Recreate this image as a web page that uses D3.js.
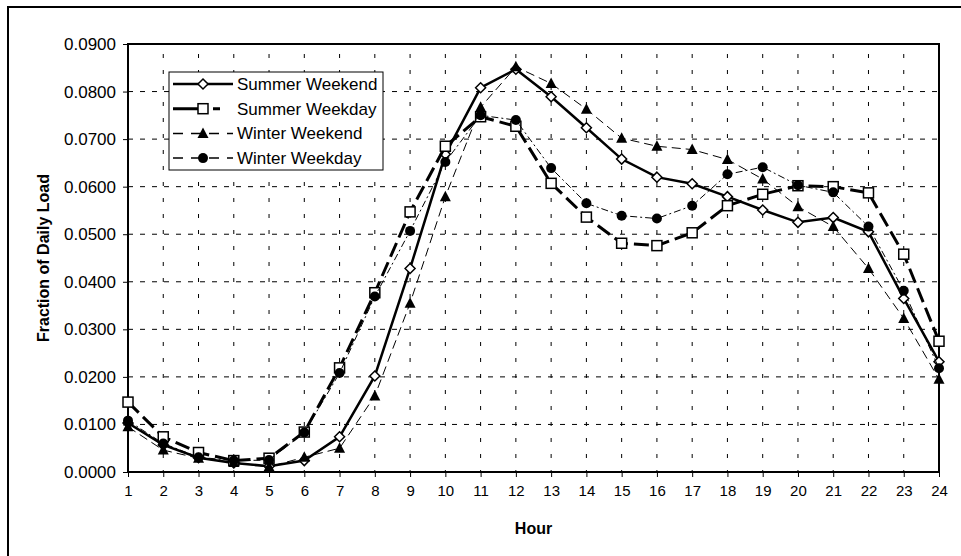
<!DOCTYPE html>
<html>
<head>
<meta charset="utf-8">
<script src="https://cdn.jsdelivr.net/npm/d3@7"></script>
<style>
  body { margin: 0; background: #fff; }
  svg { display: block; font-family: "Liberation Sans", Arial, sans-serif; }
</style>
</head>
<body>
<svg width="961" height="556"></svg>
<script>
// hours on the x axis
const hours = d3.range(1, 25);

// fraction of daily load
const summerWeekend = [0.0103, 0.0057, 0.0030, 0.0019, 0.0012, 0.0024, 0.0074, 0.0202, 0.0428, 0.0668, 0.0808, 0.0847,
  0.0789, 0.0724, 0.0658, 0.0620, 0.0606, 0.0579, 0.0551, 0.0525, 0.0535, 0.0505, 0.0365, 0.0232];
const summerWeekday = [0.0147, 0.0074, 0.0041, 0.0024, 0.0029, 0.0084, 0.0219, 0.0377, 0.0547, 0.0685, 0.0747, 0.0727,
  0.0607, 0.0536, 0.0481, 0.0476, 0.0503, 0.0560, 0.0584, 0.0602, 0.0600, 0.0587, 0.0458, 0.0275];
const winterWeekend = [0.0095, 0.0046, 0.0029, 0.0020, 0.0011, 0.0031, 0.0050, 0.0160, 0.0355, 0.0579, 0.0767, 0.0852,
  0.0817, 0.0763, 0.0702, 0.0685, 0.0678, 0.0657, 0.0616, 0.0558, 0.0516, 0.0428, 0.0323, 0.0195];
const winterWeekday = [0.0108, 0.0060, 0.0031, 0.0024, 0.0025, 0.0083, 0.0208, 0.0369, 0.0507, 0.0652, 0.0750, 0.0740,
  0.0639, 0.0565, 0.0539, 0.0533, 0.0560, 0.0626, 0.0641, 0.0603, 0.0588, 0.0516, 0.0381, 0.0218];

const yTicks = d3.range(0, 0.0901, 0.01);

const series = [
  { name: "Summer Weekend", values: summerWeekend, marker: "diamond", width: 2.5, dash: null },
  { name: "Summer Weekday", values: summerWeekday, marker: "square", width: 3, dash: "15,6" },
  { name: "Winter Weekend", values: winterWeekend, marker: "triangle", width: 1, dash: "9,5" },
  { name: "Winter Weekday", values: winterWeekday, marker: "circle", width: 1, dash: "7,3,2,3" }
];

const svg = d3.select("svg");

// outer chart frame (only the left and top edges are inside the picture)
svg.append("rect")
  .attr("x", 8).attr("y", 7)
  .attr("width", 1000).attr("height", 600)
  .attr("fill", "none").attr("stroke", "#000").attr("stroke-width", 2);

const plot = { left: 128, right: 939, top: 44, bottom: 472 };

const x = d3.scaleLinear().domain([1, 24]).range([plot.left, plot.right]);
const y = d3.scaleLinear().domain([0, 0.09]).range([plot.bottom, plot.top]);

// grid lines
svg.append("g")
  .selectAll("line")
  .data(yTicks.slice(1, -1))
  .enter().append("line")
  .attr("x1", plot.left).attr("x2", plot.right)
  .attr("y1", d => y(d)).attr("y2", d => y(d))
  .attr("stroke", "#000").attr("stroke-width", 1)
  .attr("stroke-dasharray", "5,7");

svg.append("g")
  .selectAll("line")
  .data(hours.slice(1, -1))
  .enter().append("line")
  .attr("x1", d => x(d)).attr("x2", d => x(d))
  .attr("y1", plot.bottom).attr("y2", plot.top)
  .attr("stroke", "#000").attr("stroke-width", 1)
  .attr("stroke-dasharray", "4,12")
  .attr("stroke-dashoffset", 2);

// axes
const xAxis = svg.append("g")
  .attr("transform", `translate(0,${plot.bottom})`)
  .call(d3.axisBottom(x).tickValues(hours).tickFormat(d3.format("d")).tickSize(5).tickPadding(8));
const yAxis = svg.append("g")
  .attr("transform", `translate(${plot.left},0)`)
  .call(d3.axisLeft(y).tickValues(yTicks).tickFormat(d3.format(".4f")).tickSize(5).tickPadding(7));

[xAxis, yAxis].forEach(g => {
  g.select(".domain").remove();
  g.selectAll("line").attr("stroke", "#000");
  g.selectAll("text").attr("fill", "#000")
    .attr("font-family", "'Liberation Sans', Arial, sans-serif");
});
xAxis.selectAll("text").attr("font-size", 15);
yAxis.selectAll("text").attr("font-size", 17);

// plot frame
svg.append("rect")
  .attr("x", plot.left).attr("y", plot.top)
  .attr("width", plot.right - plot.left).attr("height", plot.bottom - plot.top)
  .attr("fill", "none").attr("stroke", "#000").attr("stroke-width", 2);

// axis titles
svg.append("text")
  .attr("x", (plot.left + plot.right) / 2).attr("y", 528)
  .attr("dy", "0.35em")
  .attr("text-anchor", "middle")
  .attr("font-size", 16).attr("font-weight", "bold")
  .text("Hour");

svg.append("text")
  .attr("transform", `translate(49,${(plot.top + plot.bottom) / 2}) rotate(-90)`)
  .attr("text-anchor", "middle")
  .attr("font-size", 16).attr("font-weight", "bold")
  .text("Fraction of Daily Load");

// markers
function drawMarker(g, type, cx, cy) {
  if (type === "diamond") {
    g.append("path")
      .attr("d", `M${cx},${cy - 5}L${cx + 5},${cy}L${cx},${cy + 5}L${cx - 5},${cy}Z`)
      .attr("fill", "#fff").attr("stroke", "#000").attr("stroke-width", 1.5);
  } else if (type === "square") {
    g.append("rect")
      .attr("x", cx - 5).attr("y", cy - 5).attr("width", 10).attr("height", 10)
      .attr("fill", "#fff").attr("stroke", "#000").attr("stroke-width", 1.5);
  } else if (type === "triangle") {
    g.append("path")
      .attr("d", `M${cx},${cy - 6}L${cx + 5.5},${cy + 4.5}L${cx - 5.5},${cy + 4.5}Z`)
      .attr("fill", "#000");
  } else {
    g.append("circle")
      .attr("cx", cx).attr("cy", cy).attr("r", 5)
      .attr("fill", "#000");
  }
}

const line = d3.line()
  .x((d, i) => x(hours[i]))
  .y(d => y(d));

series.forEach(s => {
  const g = svg.append("g");
  g.append("path")
    .datum(s.values)
    .attr("d", line)
    .attr("fill", "none")
    .attr("stroke", "#000")
    .attr("stroke-width", s.width)
    .attr("stroke-dasharray", s.dash);
  s.values.forEach((v, i) => drawMarker(g, s.marker, x(hours[i]), y(v)));
});

// legend
const legend = svg.append("g");
legend.append("rect")
  .attr("x", 169).attr("y", 72).attr("width", 214).attr("height", 98)
  .attr("fill", "#fff").attr("stroke", "#000").attr("stroke-width", 1);

series.forEach((s, i) => {
  const ly = 84 + i * 24.7;
  const g = legend.append("g");
  g.append("line")
    .attr("x1", 173).attr("x2", 233)
    .attr("y1", ly).attr("y2", ly)
    .attr("stroke", "#000")
    .attr("stroke-width", s.width === 1 ? 1.5 : s.width)
    .attr("stroke-dasharray", s.dash ? (i === 1 ? "27,13,7,13" : "10,8") : null);
  drawMarker(g, s.marker, 203, ly);
  g.append("text")
    .attr("x", 237).attr("y", ly).attr("dy", "0.35em")
    .attr("font-size", 17)
    .text(s.name);
});
</script>
</body>
</html>
